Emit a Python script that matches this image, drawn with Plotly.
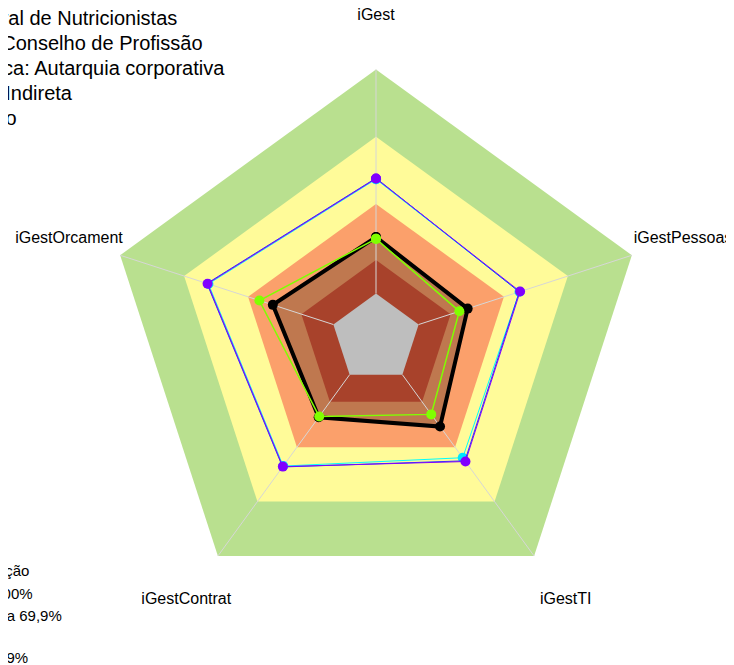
import plotly.graph_objects as go

# ---- data ----
categories = ["iGest", "iGestPessoas", "iGestTI", "iGestContrat", "iGestOrcament"]

band_limits = [100, 70, 40, 15]            # outer limits of the classification bands (%)
band_colors = ["#B9E08F", "#FFFB99", "#FBA06B", "#A8422B"]
center_limit = 0
center_color = "#BEBEBE"

org_values = [25.2, 23.0, 28.6, 23.5, 28.4]        # black series
green_values = [24.4, 19.1, 21.9, 23.1, 34.7]      # green series
purple_values = [51.3, 47.6, 47.9, 50.7, 59.0]
blue_values = [51.5, 47.2, 47.5, 50.9, 59.3]
cyan_values = [51.0, 47.3, 45.8, 50.4, 58.6]

title_lines = [
    "Conselho Federal de Nutricionistas",
    "Tipo: Conselho de Profissão",
    "Natureza jurídica: Autarquia corporativa",
    "Administração Indireta",
    "Poder Executivo",
]
legend_title = "Classificação"
legend_labels = [
    "Aprimorado: 70 a 100%",
    "Intermediário: 40 a 69,9%",
    "Iniciando: 15",
    "Inexpressivo: 0 a 14,9%",
]

FONT = "Liberation Sans, Arial, sans-serif"


def closed(vals):
    return list(vals) + [vals[0]]


theta_c = closed(categories)
fig = go.Figure()

# bands (outer to inner), with the organisation fill between orange and dark-red
for i, (lim, col) in enumerate(zip(band_limits, band_colors)):
    if i == 3:
        fig.add_trace(go.Scatterpolar(r=closed(org_values), theta=theta_c, mode="lines",
                                      fill="toself", fillcolor="#BF784F",
                                      line=dict(width=0, color="#BF784F"),
                                      hoverinfo="skip", showlegend=False))
    fig.add_trace(go.Scatterpolar(r=closed([lim] * 5), theta=theta_c, mode="lines",
                                  fill="toself", fillcolor=col,
                                  line=dict(width=0, color=col),
                                  hoverinfo="skip", showlegend=False))
fig.add_trace(go.Scatterpolar(r=closed([center_limit] * 5), theta=theta_c, mode="lines",
                              fill="toself", fillcolor=center_color,
                              line=dict(width=0, color=center_color),
                              hoverinfo="skip", showlegend=False))

# spokes
sr, st = [], []
for c in categories:
    sr += [center_limit, band_limits[0], None]
    st += [c, c, None]
fig.add_trace(go.Scatterpolar(r=sr, theta=st, mode="lines",
                              line=dict(color="#D6D6D6", width=1),
                              connectgaps=False, hoverinfo="skip", showlegend=False))

# series
fig.add_trace(go.Scatterpolar(r=closed(cyan_values), theta=theta_c, mode="lines+markers",
                              line=dict(color="#00FFFF", width=1),
                              marker=dict(color="#00E5FF", size=10), showlegend=False))
fig.add_trace(go.Scatterpolar(r=closed(blue_values), theta=theta_c, mode="lines",
                              line=dict(color="#1F3BFF", width=1), showlegend=False))
fig.add_trace(go.Scatterpolar(r=closed(purple_values), theta=theta_c, mode="lines+markers",
                              line=dict(color="#8000FF", width=1),
                              marker=dict(color="#8000FF", size=10), showlegend=False))
fig.add_trace(go.Scatterpolar(r=closed(org_values), theta=theta_c, mode="lines+markers",
                              line=dict(color="black", width=4),
                              marker=dict(color="black", size=10), showlegend=False))
fig.add_trace(go.Scatterpolar(r=closed(green_values), theta=theta_c, mode="lines+markers",
                              line=dict(color="#80FF00", width=1.5),
                              marker=dict(color="#80FF00", size=10), showlegend=False))

# axis labels
fig.add_trace(go.Scatterpolar(r=[124] * 5, theta=categories, mode="text", text=categories,
                              textposition="middle center", cliponaxis=False,
                              textfont=dict(family=FONT, size=16, color="black"),
                              hoverinfo="skip", showlegend=False))

W, H = 734, 665
annotations = []
title_ends = [171, 197, 219, 67, 11]
title_y = [10, 35, 60, 85, 110]
for txt, xe, yc in zip(title_lines, title_ends, title_y):
    annotations.append(dict(text=txt, xref="paper", yref="paper", x=xe / W, y=1 - yc / H,
                            xanchor="right", yanchor="middle", showarrow=False,
                            font=dict(family=FONT, size=20, color="black")))
leg_ends = [23, 27, 56, -3, 22]
leg_y = [562, 585, 607, 628, 649]
for txt, xe, yc in zip([legend_title] + legend_labels, leg_ends, leg_y):
    annotations.append(dict(text=txt, xref="paper", yref="paper", x=xe / W, y=1 - yc / H,
                            xanchor="right", yanchor="middle", showarrow=False,
                            font=dict(family=FONT, size=15, color="black")))

fig.update_layout(
    width=W, height=H,
    margin=dict(l=0, r=0, t=0, b=0),
    paper_bgcolor="white", plot_bgcolor="white",
    showlegend=False,
    annotations=annotations,
    polar=dict(
        domain=dict(x=[0.06158, 0.94114], y=[0.01775, 0.98857]),
        bgcolor="rgba(0,0,0,0)",
        gridshape="linear",
        radialaxis=dict(visible=False, range=[-20, 124]),
        angularaxis=dict(direction="clockwise", rotation=90, showgrid=False,
                         showline=False, showticklabels=False, ticks=""),
    ),
)

fig.write_html("out.html")
